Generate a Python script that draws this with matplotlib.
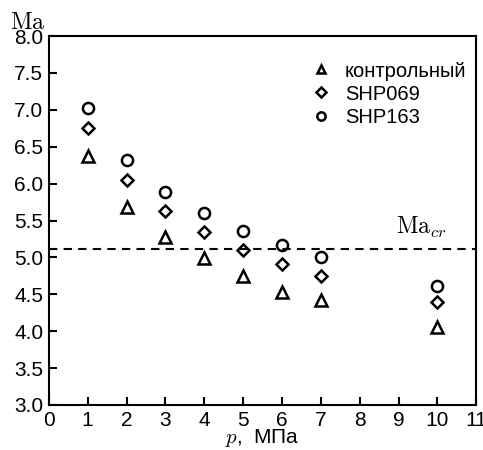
import matplotlib
matplotlib.use("Agg")
import matplotlib.pyplot as plt

plt.rcParams["font.family"] = ["Liberation Sans", "DejaVu Sans"]
plt.rcParams["mathtext.fontset"] = "cm"

pressure = [1, 2, 3, 4, 5, 6, 7, 10]
ma_control = [6.37, 5.68, 5.28, 4.99, 4.75, 4.53, 4.42, 4.06]
ma_shp069 = [6.75, 6.05, 5.63, 5.34, 5.10, 4.91, 4.75, 4.40]
ma_shp163 = [7.02, 6.32, 5.89, 5.60, 5.36, 5.17, 5.00, 4.61]
ma_cr = 5.11

labels = ["контрольный", "SHP069", "SHP163"]
markers = ["^", "D", "o"]
sizes = [8, 6.5, 8]

fig = plt.figure(figsize=(4.83, 4.5), dpi=100)
ax = fig.add_axes([0.101, 0.1, 0.885, 0.82])

for ys, m, lab, s in zip([ma_control, ma_shp069, ma_shp163], markers, labels, sizes):
    ax.plot(pressure, ys, linestyle="none", marker=m, markersize=s,
            markerfacecolor="white", markeredgecolor="black", markeredgewidth=1.8, label=lab)

ax.axhline(ma_cr, color="black", linestyle=(0, (4, 3)), linewidth=1.5)
ax.text(9.6, ma_cr + 0.12, r"$\mathrm{Ma}_{cr}$", fontsize=17, ha="center", va="bottom")

ax.set_xlim(0, 11)
ax.set_ylim(3.0, 8.0)
ax.set_xticks(range(0, 12))
ax.set_yticks([3.0, 3.5, 4.0, 4.5, 5.0, 5.5, 6.0, 6.5, 7.0, 7.5, 8.0])
ax.set_yticklabels([f"{v:.1f}" for v in ax.get_yticks()])
ax.tick_params(direction="in", length=6, width=1.5, labelsize=15, pad=4)
for sp in ax.spines.values():
    sp.set_linewidth(1.5)

ax.set_xlabel(r"$p$,  МПа", fontsize=15, labelpad=-1.5)
ax.text(-0.007, 1.019, r"$\mathrm{Ma}$", transform=ax.transAxes, fontsize=17,
        ha="right", va="baseline")

ax.legend(loc="upper left", bbox_to_anchor=(0.565, 0.98), frameon=False, fontsize=14.5,
          handletextpad=0.6, labelspacing=0.2, handlelength=1.2, markerscale=0.75)

fig.savefig("out.png", dpi=100)
